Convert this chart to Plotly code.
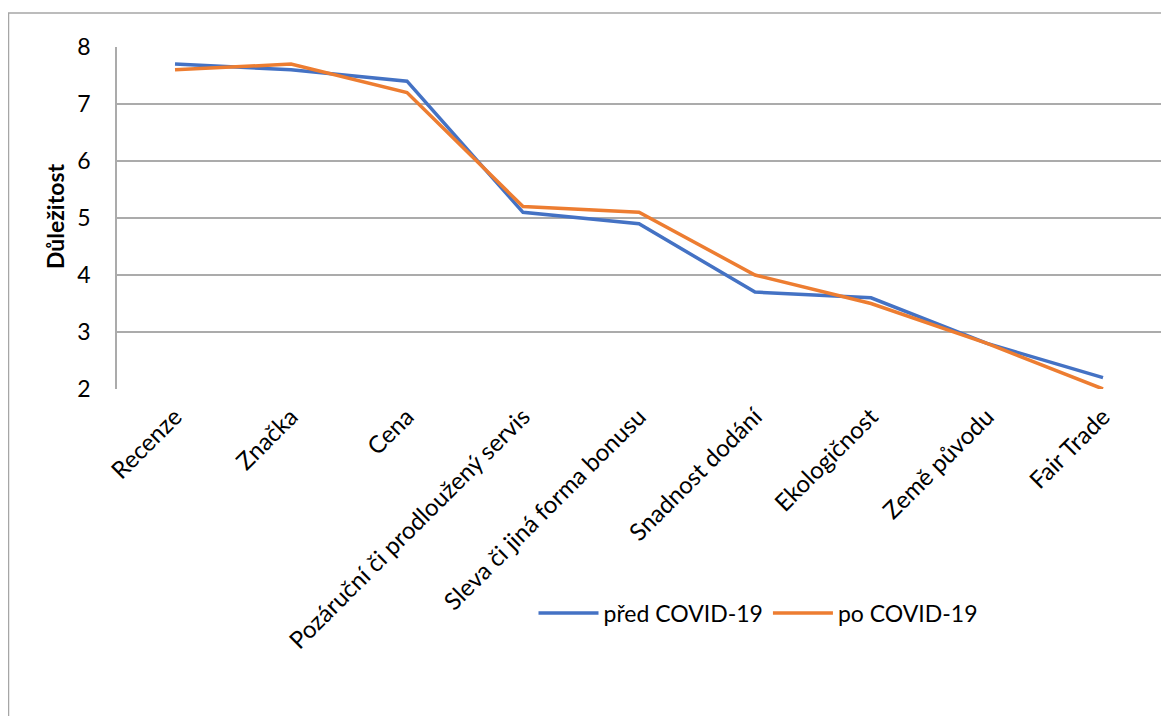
import plotly.graph_objects as go

categories = ["Recenze", "Značka", "Cena", "Pozáruční či prodloužený servis",
              "Sleva či jiná forma bonusu", "Snadnost dodání", "Ekologičnost",
              "Země původu", "Fair Trade"]
pred_covid = [7.7, 7.6, 7.4, 5.1, 4.9, 3.7, 3.6, 2.8, 2.2]
po_covid = [7.6, 7.7, 7.2, 5.2, 5.1, 4.0, 3.5, 2.8, 2.0]
y_ticks = [2, 3, 4, 5, 6, 7, 8]

OFF = 8  # page body margin
W, H = 1161, 708
L, R, T, B = 109, 8, 39, 327
pw, ph = W - L - R, H - T - B

def px_x(p):
    return (p - OFF - L) / pw

def px_y(p):
    return (H - B - (p - OFF)) / ph

font = "Lato, 'Open Sans', sans-serif"

fig = go.Figure()
fig.add_trace(go.Scatter(x=categories, y=pred_covid, mode="lines", name="před COVID-19",
                         line=dict(color="#4472C4", width=3.5)))
fig.add_trace(go.Scatter(x=categories, y=po_covid, mode="lines", name="po COVID-19",
                         line=dict(color="#ED7D31", width=3.5)))

fig.update_layout(
    width=W, height=H,
    margin=dict(l=L, r=R, t=T, b=B, autoexpand=False),
    paper_bgcolor="white", plot_bgcolor="white",
    font=dict(family=font, size=23, color="black"),
    showlegend=True,
    legend=dict(orientation="h", x=px_x(758), y=px_y(613), xanchor="center", yanchor="middle",
                font=dict(size=23), itemwidth=60, tracegroupgap=0),
    xaxis=dict(type="category", tickangle=-45, showgrid=False, showline=False,
               ticks="", range=[-0.5, len(categories) - 0.5], tickfont=dict(size=24),
               ticklabelstandoff=8),
    yaxis=dict(range=[2, 8], tickvals=y_ticks, showgrid=True, gridcolor="#ABABAB", gridwidth=1.5,
               showline=True, linecolor="#ABABAB", linewidth=1.5, zeroline=False,
               ticks="", ticklabelstandoff=20, tickfont=dict(size=23)),
    annotations=[dict(text="<b>Důležitost</b>", x=px_x(55), y=px_y(217), xref="paper", yref="paper",
                      textangle=-90, showarrow=False, font=dict(size=23), xanchor="center", yanchor="middle")],
    shapes=[dict(type="rect", xref="paper", yref="paper",
                 x0=px_x(8.5), x1=px_x(1190), y0=px_y(740), y1=px_y(13),
                 line=dict(color="#A6A6A6", width=1.5), fillcolor="rgba(0,0,0,0)", layer="below")],
)

fig.write_html("out.html")
